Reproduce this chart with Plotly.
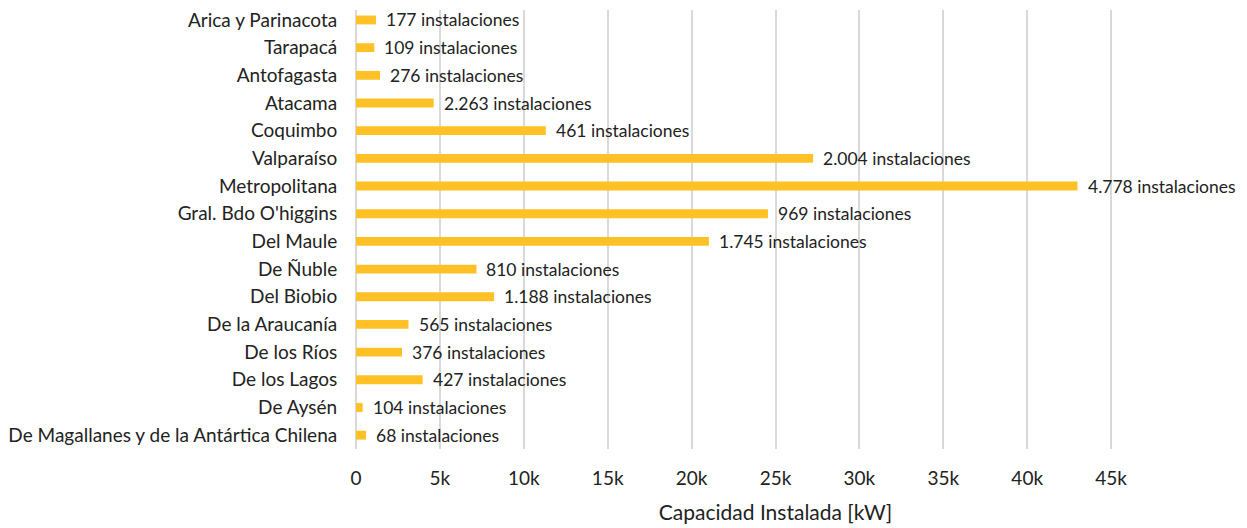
import plotly.graph_objects as go

regions = [
    "Arica y Parinacota", "Tarapacá", "Antofagasta", "Atacama", "Coquimbo",
    "Valparaíso", "Metropolitana", "Gral. Bdo O'higgins", "Del Maule", "De Ñuble",
    "Del Biobio", "De la Araucanía", "De los Ríos", "De los Lagos", "De Aysén",
    "De Magallanes y de la Antártica Chilena",
]
capacidad_kw = [1190, 1090, 1430, 4630, 11310, 27240, 43000, 24550, 21030, 7180,
                8230, 3130, 2740, 3970, 400, 600]
instalaciones = [177, 109, 276, 2263, 461, 2004, 4778, 969, 1745, 810,
                 1188, 565, 376, 427, 104, 68]
tick_vals = [0, 5000, 10000, 15000, 20000, 25000, 30000, 35000, 40000, 45000]
tick_text = ["0", "5k", "10k", "15k", "20k", "25k", "30k", "35k", "40k", "45k"]

labels = [f"{n:,}".replace(",", ".") + " instalaciones" for n in instalaciones]

FONT = "Lato, 'Open Sans', sans-serif"
TXT = "#222222"

fig = go.Figure(go.Bar(
    y=regions, x=capacidad_kw, orientation="h",
    marker=dict(color="#FFC125", line=dict(width=0)),
    hoverinfo="skip",
))

for r, v, t in zip(regions, capacidad_kw, labels):
    fig.add_annotation(x=v, y=r, text=t, showarrow=False, xanchor="left",
                       xshift=8, font=dict(family=FONT, size=17.5, color=TXT))

fig.update_layout(
    width=1239, height=520,
    margin=dict(l=347, r=52, t=0, b=79),
    paper_bgcolor="white", plot_bgcolor="white",
    bargap=0.68,
    showlegend=False,
    font=dict(family=FONT, size=19, color=TXT),
)
fig.update_xaxes(
    range=[0, 50000], tickvals=tick_vals, ticktext=tick_text,
    showgrid=True, gridcolor="#D9D9D9", gridwidth=2,
    zeroline=True, zerolinecolor="#D9D9D9", zerolinewidth=2,
    showline=False, ticks="outside", ticklen=12, tickcolor="rgba(0,0,0,0)",
    tickfont=dict(family=FONT, size=19, color=TXT),
    title=dict(text="Capacidad Instalada [kW]", standoff=17,
               font=dict(family=FONT, size=21, color=TXT)),
)
fig.update_yaxes(
    categoryorder="array", categoryarray=regions, range=[15.5, -0.36],
    showgrid=False, showline=False, ticks="outside", ticklen=14,
    tickcolor="rgba(0,0,0,0)",
    tickfont=dict(family=FONT, size=19, color=TXT),
)

fig.write_html("out.html")
